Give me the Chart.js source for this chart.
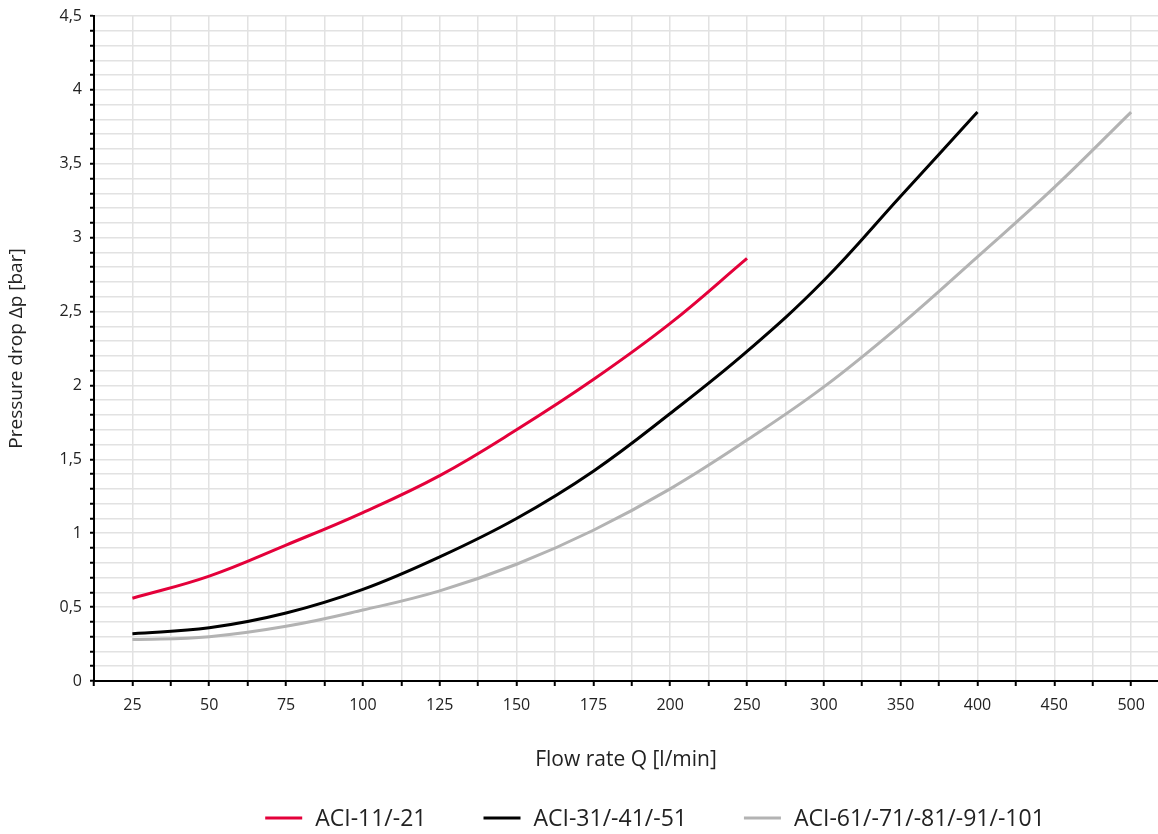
<!DOCTYPE html>
<html>
<head>
<meta charset="utf-8">
<script src="https://cdn.jsdelivr.net/npm/chart.js@4"></script>
<style>
  html, body { margin: 0; padding: 0; background: #fff; }
  #wrap { width: 1158px; height: 834px; }
</style>
</head>
<body>
<div id="wrap"><canvas id="c" width="1158" height="834"></canvas></div>
<script>
const flowLabels = ['25', '50', '75', '100', '125', '150', '175', '200', '250', '300', '350', '400', '450', '500'];
const aci11 = [0.56, 0.71, 0.92, 1.14, 1.39, 1.70, 2.04, 2.42, 2.86];
const aci31 = [0.32, 0.36, 0.46, 0.62, 0.84, 1.10, 1.42, 1.81, 2.23, 2.71, 3.28, 3.85];
const aci61 = [0.28, 0.30, 0.37, 0.48, 0.61, 0.79, 1.02, 1.30, 1.63, 1.99, 2.41, 2.87, 3.34, 3.85];
const seriesNames = ['ACI-11/-21', 'ACI-31/-41/-51', 'ACI-61/-71/-81/-91/-101'];
const yLabels = ['0', '0,5', '1', '1,5', '2', '2,5', '3', '3,5', '4', '4,5'];

const toPts = arr => arr.map((v, i) => ({ x: i, y: v }));
const colors = ['#e4003a', '#000000', '#b3b3b3'];
const FONT = '"Open Sans", sans-serif';

const ds = [aci11, aci31, aci61].map((arr, k) => ({
  label: seriesNames[k],
  data: toPts(arr),
  borderColor: colors[k],
  backgroundColor: colors[k],
  borderWidth: 3,
  pointRadius: 0,
  tension: 0.4,
  fill: false
}));

// Custom bottom legend (drawn from the dataset labels/colours)
const bottomLegend = {
  id: 'bottomLegend',
  afterDraw(chart) {
    const ctx = chart.ctx;
    const sets = chart.data.datasets;
    ctx.save();
    ctx.font = '23px ' + FONT;
    ctx.textBaseline = 'middle';
    const sample = 37, gapText = 13, gapItem = 57;
    const widths = sets.map(d => ctx.measureText(d.label).width);
    const total = widths.reduce((a, w) => a + sample + gapText + w, 0) + gapItem * (sets.length - 1);
    let x = 655 - total / 2;
    const y = 818;
    sets.forEach((d, i) => {
      ctx.strokeStyle = d.borderColor;
      ctx.lineWidth = 3;
      ctx.beginPath();
      ctx.moveTo(x, y);
      ctx.lineTo(x + sample, y);
      ctx.stroke();
      ctx.fillStyle = '#222';
      ctx.fillText(d.label, x + sample + gapText, y + 1);
      x += sample + gapText + widths[i] + gapItem;
    });
    ctx.restore();
  }
};

new Chart(document.getElementById('c'), {
  type: 'line',
  data: { datasets: ds },
  options: {
    responsive: false,
    animation: false,
    devicePixelRatio: 1,
    layout: { padding: { top: 11, right: 0, left: 0, bottom: 38 } },
    plugins: {
      tooltip: { enabled: false },
      legend: { display: false }
    },
    scales: {
      x: {
        type: 'linear',
        min: -0.5,
        max: 13.35,
        afterFit: s => { s.height = 115; },
        border: { color: '#000', width: 2 },
        grid: { color: '#e2e2e2', lineWidth: 1.5, tickLength: 5, tickColor: '#000', tickWidth: 2 },
        ticks: {
          stepSize: 0.5,
          includeBounds: false,
          autoSkip: false,
          maxRotation: 0,
          padding: 10,
          color: '#222',
          font: { family: FONT, size: 16 },
          callback: v => {
            const r = Math.round(v);
            return Math.abs(v - r) < 1e-6 && r >= 0 && r < flowLabels.length ? flowLabels[r] : '';
          }
        },
        title: {
          display: true,
          text: 'Flow rate Q [l/min]',
          color: '#222',
          font: { family: FONT, size: 21 },
          padding: { top: 0, bottom: 23 }
        }
      },
      y: {
        type: 'linear',
        min: 0,
        max: 4.5,
        afterFit: s => { s.width = 94; },
        border: { color: '#000', width: 2 },
        grid: { color: '#e2e2e2', lineWidth: 1.5, tickLength: 4, tickColor: '#000', tickWidth: 2 },
        ticks: {
          stepSize: 0.1,
          maxTicksLimit: 200,
          autoSkip: false,
          padding: 8,
          color: '#222',
          font: { family: FONT, size: 16, lineHeight: 1 },
          callback: v => {
            const h = Math.round(v * 2);
            return Math.abs(v * 2 - h) < 1e-6 ? yLabels[h] : '';
          }
        },
        title: {
          display: true,
          text: 'Pressure drop Δp [bar]',
          color: '#222',
          font: { family: FONT, size: 19 },
          padding: { top: 5, bottom: 5 }
        }
      }
    }
  },
  plugins: [bottomLegend]
});
</script>
</body>
</html>
